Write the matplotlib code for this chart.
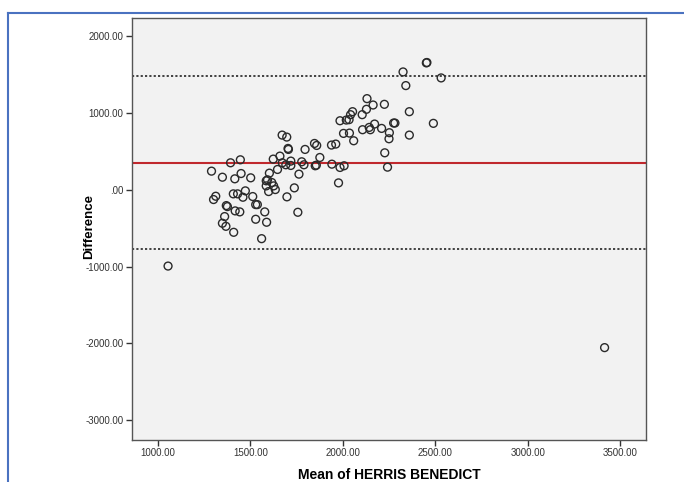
import matplotlib

matplotlib.use("Agg")
import matplotlib.pyplot as plt
from matplotlib.lines import Line2D
from matplotlib.ticker import FuncFormatter

plt.rcParams["font.family"] = ["Liberation Sans", "DejaVu Sans"]

# Bland-Altman data: mean of the two methods vs. difference
mean_vals = [
    2452, 2455, 2326, 2532, 2341, 2131, 2164, 2225, 2128, 2053, 2042, 2105, 1985, 2019, 2034,
    2360, 2275, 2282, 2490, 2004, 2036, 2107, 2143, 2149, 2172, 2210, 2252, 2250, 2360, 2059,
    1672, 1697, 1704, 1706, 1796, 1847, 1859, 1939, 1962, 2227, 1876, 1624, 1660, 1446, 1393,
    1673, 1692, 1719, 1719, 1778, 1790, 1851, 1857, 1941, 1985, 2007, 2242, 1647, 1290, 1450,
    1349, 1416, 1502, 1603, 1586, 1593, 1616, 1763, 1586, 1626, 1635, 1599, 1977, 1738, 1473,
    1408, 1431, 1460, 1513, 1698, 1313, 1301, 1370, 1376, 1529, 1538, 1418, 1443, 1578, 1757,
    1361, 1529, 1588, 1349, 1368, 1410, 1561, 1055, 3416,
]
diff_vals = [
    1655, 1660, 1537, 1459, 1359, 1189, 1106, 1115, 1050, 1019, 980, 980, 901, 910, 915,
    1019, 871, 871, 867, 736, 740, 784, 814, 784, 858, 801, 745, 666, 714, 640,
    714, 688, 540, 527, 527, 605, 579, 584, 597, 483, 422, 401, 440, 392, 353,
    353, 327, 375, 318, 366, 327, 314, 322, 335, 292, 314, 296, 266, 244, 213,
    165, 144, 157, 218, 118, 131, 96, 205, 52, 52, 4, -22, 91, 26, -13,
    -52, -52, -96, -87, -91, -83, -126, -205, -218, -192, -192, -274, -287, -287, -292,
    -348, -383, -422, -435, -475, -553, -636, -993, -2056,
]
mean_diff = 355
upper_loa = 1485
lower_loa = -775

x_ticks = [1000, 1500, 2000, 2500, 3000, 3500]
y_ticks = [-3000, -2000, -1000, 0, 1000, 2000]


def spss_fmt(v, _pos):
    # SPSS drops the leading zero: 0.00 -> .00
    s = f"{v:.2f}"
    if s.startswith("0."):
        s = s[1:]
    elif s.startswith("-0."):
        s = "-" + s[2:]
    return s


fig = plt.figure(figsize=(6.84, 4.82), dpi=100)
ax = fig.add_axes([132 / 684, 1 - 440 / 482, (646 - 132) / 684, (440 - 18) / 482])
ax.set_facecolor("#f2f2f2")

ax.axhline(upper_loa, color="#333333", linestyle=(0, (1.2, 1.2)), linewidth=1.3, zorder=2)
ax.axhline(lower_loa, color="#333333", linestyle=(0, (1.2, 1.2)), linewidth=1.3, zorder=2)
ax.axhline(mean_diff, color="#c0282d", linewidth=1.5, zorder=2)

ax.scatter(mean_vals, diff_vals, s=32, facecolors="none", edgecolors="#2a2a2a",
           linewidths=1.0, zorder=3)

ax.set_xlim(860, 3640)
ax.set_ylim(-3260, 2240)
ax.set_xticks(x_ticks)
ax.set_yticks(y_ticks)
ax.xaxis.set_major_formatter(FuncFormatter(spss_fmt))
ax.yaxis.set_major_formatter(FuncFormatter(spss_fmt))
ax.tick_params(direction="out", length=4, width=1, color="#333333",
               labelsize=7, labelcolor="#333333", pad=2)

for side in ("top", "right", "bottom", "left"):
    ax.spines[side].set_color("#555555")
    ax.spines[side].set_linewidth(1.0)

ax.set_xlabel("Mean of HERRIS BENEDICT", fontsize=10, fontweight="bold", labelpad=7)
ax.set_ylabel("Difference", fontsize=9.5, fontweight="bold")
ax.yaxis.set_label_coords(-0.072, 0.505)

# blue frame around the output block
frame_color = "#4a72c0"
fig.add_artist(Line2D([8 / 684, 1.0], [1 - 13 / 482, 1 - 13 / 482], color=frame_color,
                      linewidth=1.5, transform=fig.transFigure))
fig.add_artist(Line2D([8 / 684, 8 / 684], [0.0, 1 - 13 / 482], color=frame_color,
                      linewidth=1.5, transform=fig.transFigure))

fig.savefig("out.png", dpi=100)
plt.close(fig)
